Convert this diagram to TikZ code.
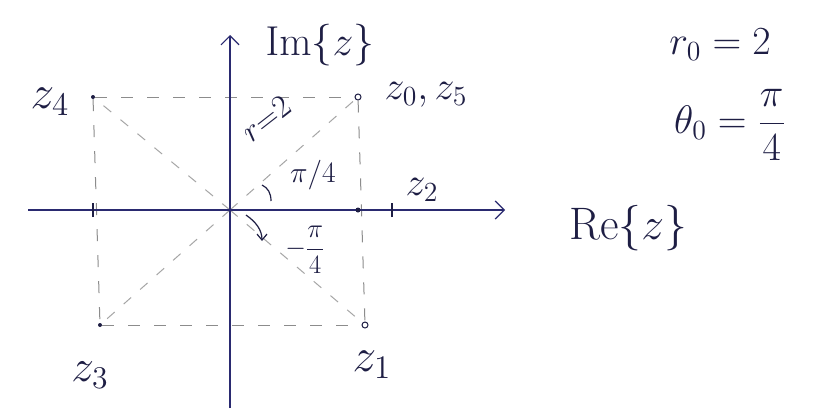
\documentclass[tikz,border=0pt]{standalone}
\usetikzlibrary{arrows.meta}
\definecolor{ink}{HTML}{1E1E44}
\definecolor{axisc}{HTML}{2A2A70}
\begin{document}
\begin{tikzpicture}[x=1pt,y=-1pt,
  guide/.style={draw=black!45, dash pattern=on 12pt off 14pt, line width=1pt},
  diag/.style={draw=black!35, dash pattern=on 10pt off 12pt, line width=1pt},
  axisline/.style={draw=axisc, line width=1.3pt, -{Straight Barb[length=9pt,width=18pt,line width=1.2pt]}},
  lbl/.style={text=ink, inner sep=1pt, font=\fontsize{20.74}{24}\selectfont, scale=1.83},
  pt/.style={circle, fill=ink, inner sep=0pt, minimum size=4pt},
  opt/.style={circle, draw=ink, line width=1pt, fill=white, inner sep=0pt, minimum size=6pt},
  tick/.style={draw=ink, line width=1.3pt},
  angmark/.style={draw=ink, line width=1.2pt}]
\useasboundingbox[fill=white] (0,0) rectangle (818,415);

% points
\coordinate (O) at (230,210);
\coordinate (xl) at (28,210);
\coordinate (xr) at (505,210);
\coordinate (yb) at (230,408);
\coordinate (yt) at (230,35);
\node[opt] (z0) at (358,97) {};
\node[pt] (z4) at (93,97) {};
\node[pt] (z3) at (100,325) {};
\node[opt] (z1) at (365,325) {};
\coordinate (t4) at (93,210);
\coordinate (t0) at (358,210);
\coordinate (t2) at (392,210);

% guides
\draw[guide] (z4) -- (z0);
\draw[guide] (z4) -- (z3);
\draw[guide] (z0) -- (z1);
\draw[guide] (z3) -- (z1);
\draw[diag] (O) -- (z0);
\draw[diag] (O) -- (z4);
\draw[diag] (O) -- (z3);
\draw[diag] (O) -- (z1);

% axes
\draw[axisline] (xl) -- (xr);
\draw[axisline] (yb) -- (yt);
\draw[tick] ([yshift=-7pt]t4) -- ([yshift=7pt]t4);
\draw[tick] ([yshift=-7pt]t2) -- ([yshift=7pt]t2);
\node[pt, minimum size=5pt] (t0d) at (t0) {};

% angle marks
\coordinate (a1) at (271,201);
\coordinate (a2) at (262,185);
\draw[angmark] (a1) .. controls (271,193) and (268,188) .. (a2);
\coordinate (b1) at (246,215);
\coordinate (b2) at (262,241);
\draw[angmark, -{Straight Barb[length=6pt,width=10pt]}] (b1) .. controls (256,222) and (262,230) .. (b2);

% labels
\node[lbl, scale=1.05] (Lz0) at (426,95) {$z_0,z_5$};
\node[lbl, scale=1.25] (Lz4) at (50,102) {$z_4$};
\node[lbl, scale=1.2] (Lz3) at (90,375) {$z_3$};
\node[lbl, scale=1.25] (Lz1) at (372,365) {$z_1$};
\node[lbl, scale=1.05] (Lz2) at (422,190) {$z_2$};
\node[lbl, scale=1.1] (Lim) at (320,45) {$\mathrm{Im}\{z\}$};
\node[lbl, scale=1.2] (Lre) at (628,228) {$\mathrm{Re}\{z\}$};
\node[lbl, scale=0.85, rotate=38] (Lr) at (266,119) {$r{=}2$};
\node[lbl, scale=0.78] (Lpi) at (313,175) {$\pi/4$};
\node[lbl, scale=0.7] (Lmpi) at (305,250) {$\displaystyle -\frac{\pi}{4}$};
\node[lbl, scale=1.05] (Lr0) at (720,45) {$r_0=2$};
\node[lbl, scale=1.05] (Lth) at (730,125) {$\displaystyle \theta_0=\frac{\pi}{4}$};
\end{tikzpicture}
\end{document}
